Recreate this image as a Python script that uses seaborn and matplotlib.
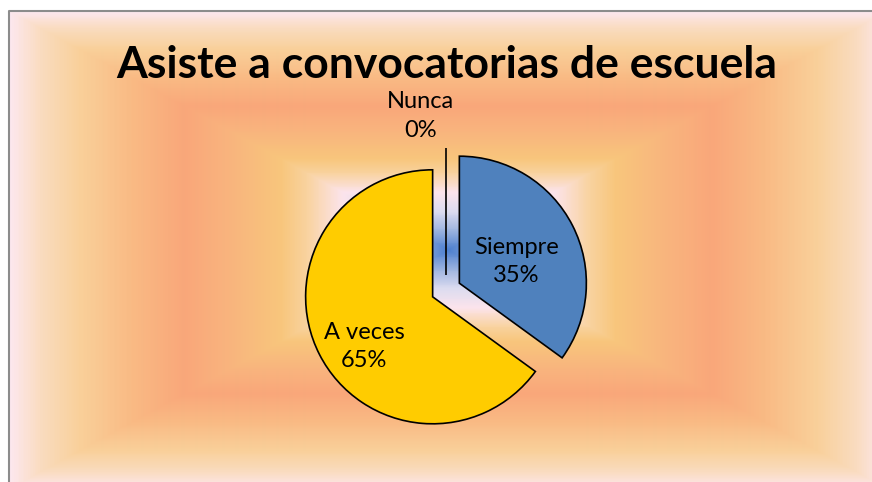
import numpy as np
import matplotlib
matplotlib.use("Agg")
import matplotlib.pyplot as plt
import seaborn as sns
from matplotlib.colors import LinearSegmentedColormap

sns.set_theme(style="white")
plt.rcParams['font.family'] = ['Lato', 'DejaVu Sans']

title = "Asiste a convocatorias de escuela"
categories = ["Siempre", "A veces", "Nunca"]
values = [35, 65, 0]
pct_labels = ["35%", "65%", "0%"]

colors = ["#4F81BD", "#FFCC00", "#FFFFFF"]
# label position relative to each wedge centre, in units of radius
label_offsets = [(0.45, 0.17), (-0.54, -0.39), (-0.2, 1.25)]

W, H = 872, 482
fig = plt.figure(figsize=(W / 100, H / 100), dpi=100)
fig.patch.set_facecolor("white")
ax = fig.add_axes([0, 0, 1, 1])

# rectangular "from centre" gradient fill of the chart area
stops = [(0.0, "#4F81D0"), (0.08, "#9DB4E0"), (0.16, "#DCDCF0"),
         (0.24, "#FCE4EC"), (0.32, "#F9D3A0"), (0.38, "#F8C67C"),
         (0.5, "#F9B47E"), (0.6, "#F9A77A"), (0.72, "#F9BA84"),
         (0.84, "#F9D09A"), (0.93, "#FADCC0"), (1.0, "#FDE8F0")]
cmap = LinearSegmentedColormap.from_list("bg", stops)
xs = np.arange(10, W) + 0.5
ys = np.arange(0, H - 12) + 0.5
gx, gy = np.meshgrid(xs, ys)
d = np.maximum(np.abs(gx - 448) / 439, np.abs(gy - (H - 250)) / 239)
ax.imshow(d, cmap=cmap, vmin=0, vmax=1, extent=(10, W, 0, H - 12),
          origin="lower", interpolation="bilinear", zorder=0)

radius = 127
wedges, _ = ax.pie(values, colors=colors, startangle=90, counterclock=False,
                   explode=[15, 15, 15], radius=radius, center=(446, H - 290),
                   wedgeprops=dict(edgecolor="black", linewidth=1.2))
for w in wedges:
    w.set_zorder(2)

for w, cat, pct, off in zip(wedges, categories, pct_labels, label_offsets):
    cx, cy = w.center
    ax.text(cx + off[0] * radius, cy + off[1] * radius, f"{cat}\n{pct}",
            ha="center", va="center", fontsize=17, linespacing=1.45,
            color="black", zorder=3)

ax.text(447, H - 78, title, ha="center", va="baseline", fontsize=32,
        fontweight="bold", color="black", zorder=3)

# chart border (only top and left visible)
ax.plot([9, 9, W + 5], [0, H - 11, H - 11], color="#8C8C8C", lw=1.5,
        clip_on=False, zorder=4)

ax.set_xlim(0, W)
ax.set_ylim(0, H)
ax.set_aspect("auto")
ax.axis("off")

fig.savefig("out.png", dpi=100)
